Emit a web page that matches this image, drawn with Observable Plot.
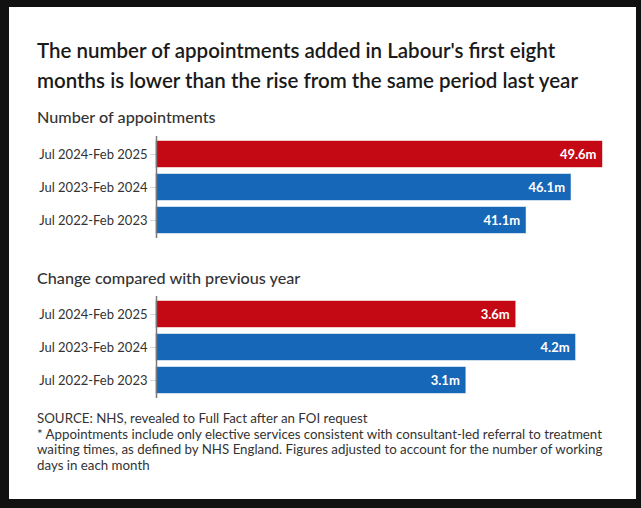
<!DOCTYPE html>
<html>
<head>
<meta charset="utf-8">
<script src="https://cdn.jsdelivr.net/npm/d3@7"></script>
<script src="https://cdn.jsdelivr.net/npm/@observablehq/plot@0.6"></script>
<style>
  html, body { margin: 0; padding: 0; background: #111111; width: 641px; height: 508px; overflow: hidden; font-family: Lato, "Noto Sans", sans-serif; }
  #card { position: absolute; left: 9px; top: 7px; width: 627px; height: 492px; background: #ffffff; }
  .abs { position: absolute; left: 37px; white-space: nowrap; }
  #title { top: 35px; font-size: 20.5px; font-weight: 600; line-height: 30px; color: #1a1a1a; }
  .sub { font-size: 16.2px; font-weight: 500; color: #333333; line-height: 20px; }
  #sub1 { top: 107px; }
  #sub2 { top: 268px; }
  #foot { top: 411px; font-size: 13.3px; line-height: 15.6px; color: #333333; white-space: normal; width: 580px; }
  .panel { position: absolute; left: 0; }
  #p1 { top: 130px; }
  #p2 { top: 290px; }
</style>
</head>
<body>
<div id="card"></div>
<div class="abs" id="title">The number of appointments added in Labour's first eight<br>months is lower than the rise from the same period last year</div>
<div class="abs sub" id="sub1">Number of appointments</div>
<div class="abs sub" id="sub2">Change compared with previous year</div>
<div class="panel" id="p1"></div>
<div class="panel" id="p2"></div>
<div class="abs" id="foot">SOURCE: NHS, revealed to Full Fact after an FOI request<br>* Appointments include only elective services consistent with consultant-led referral to treatment waiting times, as defined by NHS England. Figures adjusted to account for the number of working days in each month</div>
<script>
const periods = ["Jul 2024-Feb 2025", "Jul 2023-Feb 2024", "Jul 2022-Feb 2023"];
const appointments = [49.6, 46.1, 41.1];
const changes = [3.6, 4.2, 3.1];
const isCurrent = [true, false, false];
const red = "#c40814";
const blue = "#1767b8";

function panel(values, xMax) {
  const data = periods.map((p, i) => ({period: p, value: values[i], current: isCurrent[i]}));
  return Plot.plot({
    width: 641,
    height: 112,
    marginLeft: 156,
    marginRight: 39,
    marginTop: 6,
    marginBottom: 4,
    x: {domain: [0, xMax], axis: null},
    y: {domain: periods, paddingInner: 0.2, paddingOuter: 0.12, label: null, axis: null},
    style: {fontFamily: "Lato, 'Noto Sans', sans-serif", fontSize: "13px", color: "#333", background: "transparent", overflow: "visible"},
    marks: [
      Plot.axisY({tickSize: 6, tickPadding: 3, stroke: "#d8d8d8", fill: "#333", fontSize: 13, label: null}),
      Plot.barX(data, {x: "value", y: "period", fill: d => d.current ? red : blue, stroke: d => d.current ? red : blue, strokeOpacity: 0.45}),
      Plot.ruleX([0], {stroke: "#7a7a7a", strokeWidth: 1.5}),
      Plot.text(data, {x: "value", y: "period", text: d => d.value.toFixed(1) + "m", textAnchor: "end", dx: -6, fill: "white", fontWeight: "bold", fontSize: 13})
    ]
  });
}

document.getElementById("p1").appendChild(panel(appointments, 49.6));
document.getElementById("p2").appendChild(panel(changes, 4.47));
</script>
</body>
</html>
